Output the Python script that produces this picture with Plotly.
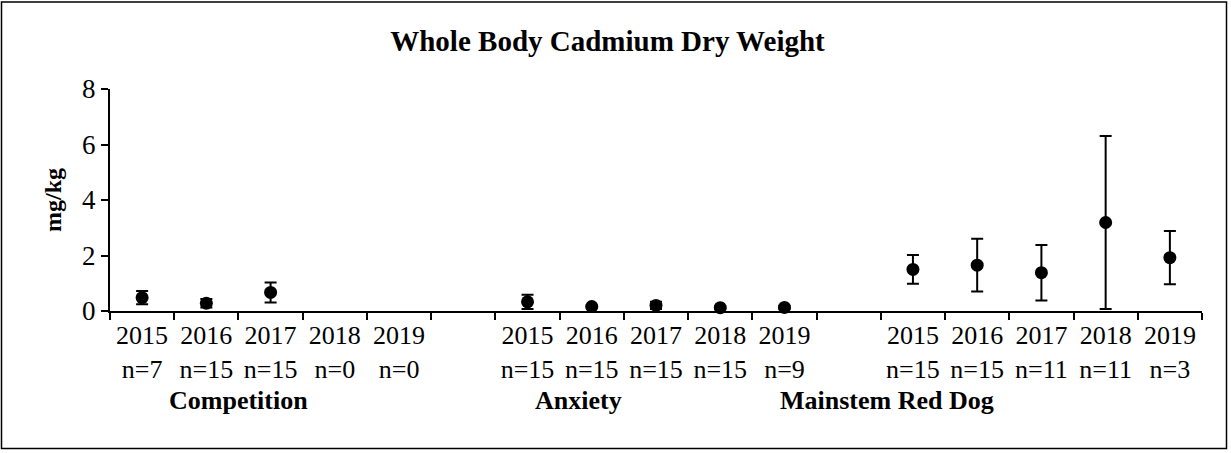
import plotly.graph_objects as go

# ---- data ----
groups = ["Competition", "Anxiety", "Mainstem Red Dog"]
years = ["2015", "2016", "2017", "2018", "2019"]

competition_n = [7, 15, 15, 0, 0]
anxiety_n = [15, 15, 15, 15, 9]
mainstem_n = [15, 15, 11, 11, 3]

competition_mean = [0.48, 0.28, 0.67, None, None]
competition_err = [0.24, 0.15, 0.36, None, None]
anxiety_mean = [0.33, 0.16, 0.20, 0.12, 0.13]
anxiety_err = [0.26, 0.05, 0.13, 0.05, 0.05]
mainstem_mean = [1.50, 1.65, 1.38, 3.19, 1.92]
mainstem_err = [0.52, 0.95, 1.00, 3.12, 0.96]

title_text = "Whole Body Cadmium Dry Weight"
y_title = "mg/kg"

# ---- layout constants ----
W, H = 1231, 453
L, R, T, B = 110, 29, 89, 142
FONT = "Liberation Serif, Times New Roman, serif"
slots_per_group = len(years) + 1          # one empty slot after each group
n_slots = slots_per_group * len(groups) - 1
group_label_x = [1.50, 6.79, 11.60]       # label anchor positions (slot units)
group_label_y = -0.405                    # paper units

all_n = [competition_n, anxiety_n, mainstem_n]
all_mean = [competition_mean, anxiety_mean, mainstem_mean]
all_err = [competition_err, anxiety_err, mainstem_err]

xs, ys, es, tickvals, ticktext = [], [], [], [], []
for g in range(len(groups)):
    for j, yr in enumerate(years):
        pos = g * slots_per_group + j
        tickvals.append(pos)
        ticktext.append(f"{yr}<br>n={all_n[g][j]}")
        xs.append(pos)
        ys.append(all_mean[g][j])
        es.append(all_err[g][j])

fig = go.Figure()
fig.add_trace(go.Scatter(
    x=xs, y=ys, mode="markers",
    marker=dict(color="black", size=13, symbol="circle"),
    error_y=dict(type="data", array=es, visible=True, color="black",
                 thickness=2, width=6),
    cliponaxis=False, showlegend=False, hoverinfo="skip",
))

for g, name in enumerate(groups):
    fig.add_annotation(
        x=group_label_x[g], xref="x", y=group_label_y, yref="paper",
        text=f"<b>{name}</b>", showarrow=False, xanchor="center", yanchor="middle",
        font=dict(family=FONT, size=26, color="black"),
    )

# outer border
pw, ph = W - L - R, H - T - B
fig.add_shape(type="rect", xref="paper", yref="paper",
              x0=(1.5 - L) / pw, x1=(1226.5 - L) / pw,
              y0=(H - B - 448.5) / ph, y1=(H - B - 2) / ph,
              line=dict(color="black", width=1.5), fillcolor="rgba(0,0,0,0)",
              layer="below")

fig.update_layout(
    width=W, height=H,
    margin=dict(l=L, r=R, t=T, b=B),
    paper_bgcolor="white", plot_bgcolor="white",
    font=dict(family=FONT, size=26, color="black"),
    title=dict(text=f"<b>{title_text}</b>", x=607.5 / W, xanchor="center",
               y=1 - 41 / H, yanchor="middle", xref="container",
               font=dict(family=FONT, size=29, color="black")),
)
fig.update_xaxes(
    range=[-0.5, n_slots - 0.5],
    showline=True, linecolor="black", linewidth=2,
    showgrid=False, zeroline=False,
    tickmode="array", tickvals=tickvals, ticktext=ticktext,
    ticks="outside", ticklen=0, tickcolor="rgba(0,0,0,0)",
    tickfont=dict(family=FONT, size=26, color="black"),
    minor=dict(tickmode="array",
               tickvals=[k - 0.5 for k in range(n_slots + 1)],
               ticks="outside", ticklen=7, tickwidth=1.5, tickcolor="black",
               showgrid=False),
)
fig.update_yaxes(
    range=[0, 8], dtick=2, tick0=0,
    showline=True, linecolor="black", linewidth=2,
    showgrid=False, zeroline=False,
    ticks="outside", ticklen=7, tickwidth=1.5, tickcolor="black",
    tickfont=dict(family=FONT, size=27, color="black"),
    title=dict(text=f"<b>{y_title}</b>", standoff=14,
               font=dict(family=FONT, size=24, color="black")),
)

fig.write_html("out.html", config={"displayModeBar": False},
               post_script="document.body.style.margin='0';document.body.style.padding='0';")
